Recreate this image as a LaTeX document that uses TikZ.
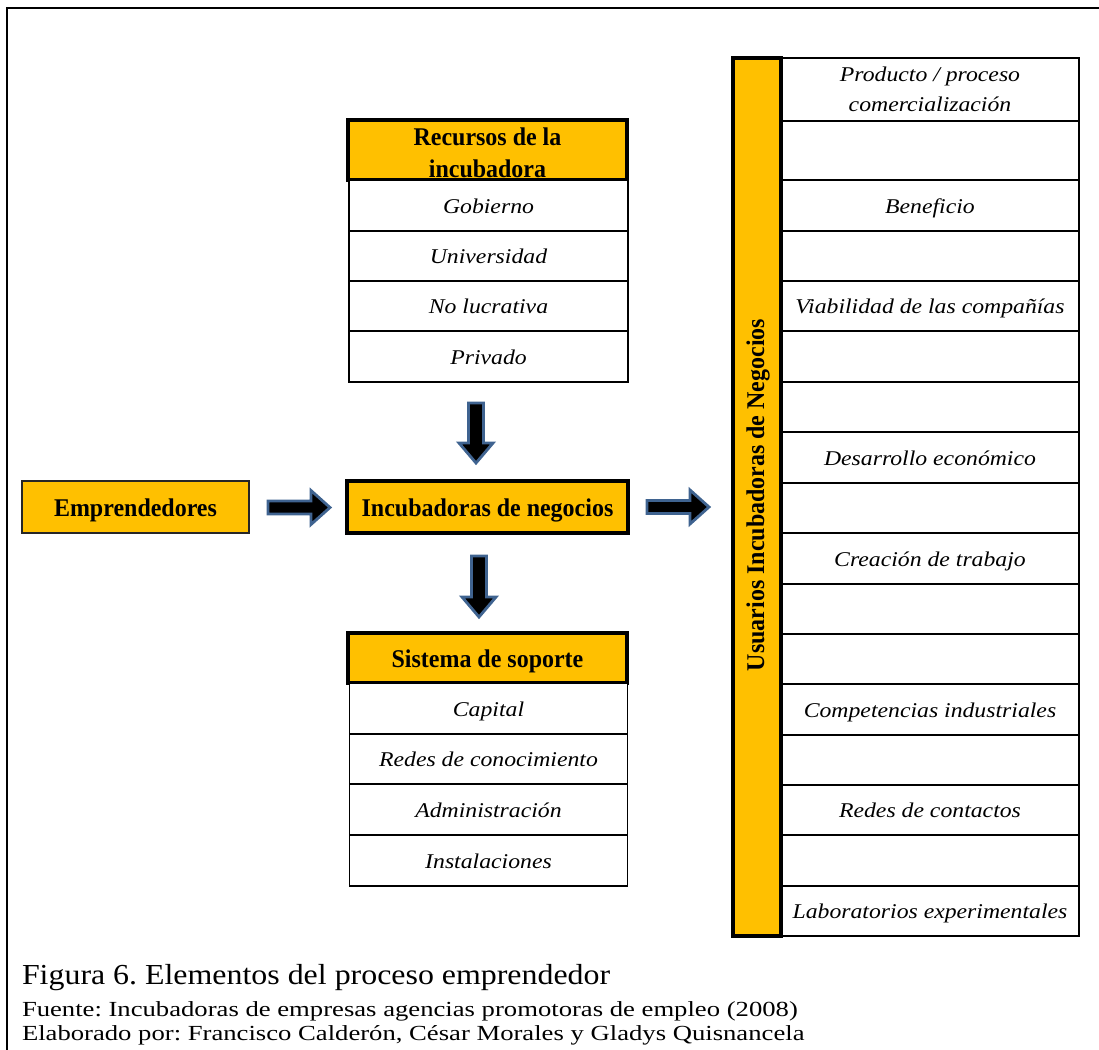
\documentclass[tikz,border=0pt]{standalone}
\usepackage{fontspec}
\setmainfont{Liberation Serif}
\newfontfamily\itemfam[FakeStretch=1.13]{Liberation Serif}
\newfontfamily\boldfam[FakeStretch=0.94]{Liberation Serif}
\newfontfamily\capbigfam[FakeStretch=1.1]{Liberation Serif}
\newfontfamily\capsmallfam[FakeStretch=1.24]{Liberation Serif}
\usetikzlibrary{calc}
\definecolor{gold}{HTML}{FFC000}
\definecolor{arrowblue}{HTML}{3F6390}
\definecolor{darkline}{HTML}{262626}
\newcommand\bx[6]{\node[#1,anchor=north west,minimum width={(#4-#2)*1pt},minimum height={(#5-#3)*1pt}] (#6) at (#2,#3)}
\newcommand\harr[2]{\draw[barrow] ($(#1)+(0,-6.5)$) -- ($(#2)+(-19,-6.5)$) -- ($(#2)+(-19,-17)$) -- (#2) -- ($(#2)+(-19,17)$) -- ($(#2)+(-19,6.5)$) -- ($(#1)+(0,6.5)$) -- cycle;}
\newcommand\varr[2]{\draw[barrow] ($(#1)+(-7.5,0)$) -- ($(#2)+(-7.5,-20)$) -- ($(#2)+(-17,-20)$) -- (#2) -- ($(#2)+(17,-20)$) -- ($(#2)+(7.5,-20)$) -- ($(#1)+(7.5,0)$) -- cycle;}
\begin{document}
\frenchspacing
\begin{tikzpicture}[x=1pt,y=-1pt,
  every node/.style={inner sep=0pt,outer sep=0pt},
  itm/.style={font=\itemfam\itshape\fontsize{21}{30}\selectfont,align=center},
  bld/.style={font=\boldfam\bfseries\fontsize{25.5}{32}\selectfont,align=center},
  cell/.style={draw=black,line width=1.5pt,fill=white,itm},
  one/.style={cell,text height=15pt,text depth=0pt},
  hdr/.style={draw=black,line width=3.5pt,fill=gold,bld},
  bone/.style={text height=19pt,text depth=0pt},
  emp/.style={draw=darkline,line width=2pt,fill=gold,bld,bone},
  barrow/.style={fill=black,draw=arrowblue,line width=2.8pt,line join=miter}]
\useasboundingbox (0,0) rectangle (1099,1049);
\begin{scope}
\clip (0,0) rectangle (1099,1049);
\draw[line width=2.5pt] (7,1070) -- (7,8) -- (1120,8);
\end{scope}

% Recursos de la incubadora
\bx{hdr}{348}{120}{627}{180}{rh} {};
\node[bld] (rhtxt) at ($(rh.center)+(0,3)$) {Recursos de la\\incubadora};
\bx{one}{349}{180}{628}{231}{r1} {Gobierno};
\bx{one}{349}{231}{628}{281}{r2} {Universidad};
\bx{one}{349}{281}{628}{331}{r3} {No lucrativa};
\bx{one}{349}{331}{628}{382}{r4} {Privado};

% Emprendedores and Incubadoras
\bx{emp}{22}{481}{249}{533}{emp} {Emprendedores};
\bx{hdr,bone}{347}{481}{628}{533}{inc} {Incubadoras de negocios};

% Sistema de soporte
\bx{hdr,bone}{348}{633}{627}{683}{sh} {Sistema de soporte};
\bx{one}{349.5}{683}{627.5}{734}{s1} {Capital};
\bx{one}{349.5}{734}{627.5}{784}{s2} {Redes de conocimiento};
\bx{one}{349.5}{784}{627.5}{835}{s3} {Administración};
\bx{one}{349.5}{835}{627.5}{886}{s4} {Instalaciones};

% Right column
\bx{hdr}{733}{58}{781}{936}{bar} {};
\node[bld,rotate=90] (bartxt) at ($(bar.center)+(1,-2)$) {Usuarios Incubadoras de Negocios};
\bx{cell}{781}{58}{1079}{121}{u1} {Producto / proceso\\comercialización};
\bx{one}{781}{121}{1079}{180}{u2} {};
\bx{one}{781}{180}{1079}{231}{u3} {Beneficio};
\bx{one}{781}{231}{1079}{281}{u4} {};
\bx{one}{781}{281}{1079}{331}{u5} {Viabilidad de las compañías};
\bx{one}{781}{331}{1079}{382}{u6} {};
\bx{one}{781}{382}{1079}{432}{u7} {};
\bx{one}{781}{432}{1079}{483}{u8} {Desarrollo económico};
\bx{one}{781}{483}{1079}{533}{u9} {};
\bx{one}{781}{533}{1079}{584}{u10} {Creación de trabajo};
\bx{one}{781}{584}{1079}{634}{u11} {};
\bx{one}{781}{634}{1079}{684}{u12} {};
\bx{one}{781}{684}{1079}{735}{u13} {Competencias industriales};
\bx{one}{781}{735}{1079}{785}{u14} {};
\bx{one}{781}{785}{1079}{835}{u15} {Redes de contactos};
\bx{one}{781}{835}{1079}{886}{u16} {};
\bx{one}{781}{886}{1079}{936}{u17} {Laboratorios experimentales};
\draw[line width=3.5pt] (bar.north west) rectangle (bar.south east);

% Block arrows
\coordinate (a1s) at ($(emp.east)+(19,0.5)$);
\coordinate (a1e) at ($(inc.west)+(-17,0.5)$);
\coordinate (a2s) at ($(inc.east)+(19,0)$);
\coordinate (a2e) at ($(bar.west |- inc.west)+(-24,0)$);
\coordinate (a3s) at ($(r4.south)+(-12.5,21)$);
\coordinate (a3e) at ($(inc.north)+(-11.5,-18)$);
\coordinate (a4s) at ($(inc.south)+(-8.5,23)$);
\coordinate (a4e) at ($(sh.north)+(-8.5,-16)$);
\harr{a1s}{a1e}
\harr{a2s}{a2e}
\varr{a3s}{a3e}
\varr{a4s}{a4e}

% Caption
\node[anchor=base west,font=\capbigfam\fontsize{29}{32}\selectfont] (cap1) at (22,984) {Figura 6. Elementos del proceso emprendedor};
\node[anchor=base west,font=\capsmallfam\fontsize{21.5}{24}\selectfont] (cap2) at (22,1016) {Fuente: Incubadoras de empresas agencias promotoras de empleo (2008)};
\node[anchor=base west,font=\capsmallfam\fontsize{21.5}{24}\selectfont] (cap3) at (22,1040) {Elaborado por: Francisco Calderón, César Morales y Gladys Quisnancela};
\end{tikzpicture}
\end{document}
